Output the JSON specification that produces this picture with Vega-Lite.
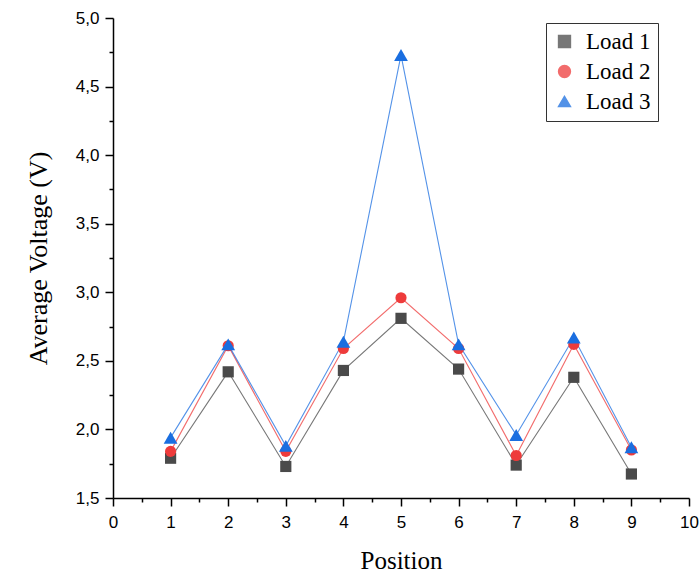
{
  "$schema": "https://vega.github.io/schema/vega-lite/v6.json",
  "autosize": "none",
  "width": 576,
  "height": 480,
  "padding": {"left": 113, "top": 18, "right": 11, "bottom": 79},
  "background": "white",
  "config": {"view": {"stroke": null}},
  "data": {"values": [
    {"pos": 1, "v": 1.79, "series": "Load 1"},
    {"pos": 2, "v": 2.42, "series": "Load 1"},
    {"pos": 3, "v": 1.73, "series": "Load 1"},
    {"pos": 4, "v": 2.43, "series": "Load 1"},
    {"pos": 5, "v": 2.81, "series": "Load 1"},
    {"pos": 6, "v": 2.44, "series": "Load 1"},
    {"pos": 7, "v": 1.74, "series": "Load 1"},
    {"pos": 8, "v": 2.38, "series": "Load 1"},
    {"pos": 9, "v": 1.675, "series": "Load 1"},
    {"pos": 1, "v": 1.84, "series": "Load 2"},
    {"pos": 2, "v": 2.61, "series": "Load 2"},
    {"pos": 3, "v": 1.84, "series": "Load 2"},
    {"pos": 4, "v": 2.59, "series": "Load 2"},
    {"pos": 5, "v": 2.96, "series": "Load 2"},
    {"pos": 6, "v": 2.59, "series": "Load 2"},
    {"pos": 7, "v": 1.81, "series": "Load 2"},
    {"pos": 8, "v": 2.62, "series": "Load 2"},
    {"pos": 9, "v": 1.85, "series": "Load 2"},
    {"pos": 1, "v": 1.94, "series": "Load 3"},
    {"pos": 2, "v": 2.62, "series": "Load 3"},
    {"pos": 3, "v": 1.88, "series": "Load 3"},
    {"pos": 4, "v": 2.64, "series": "Load 3"},
    {"pos": 5, "v": 4.73, "series": "Load 3"},
    {"pos": 6, "v": 2.62, "series": "Load 3"},
    {"pos": 7, "v": 1.96, "series": "Load 3"},
    {"pos": 8, "v": 2.67, "series": "Load 3"},
    {"pos": 9, "v": 1.87, "series": "Load 3"}
  ]},
  "encoding": {
    "x": {
      "field": "pos", "type": "quantitative",
      "scale": {"domain": [0, 10], "nice": false, "zero": false},
      "axis": {
        "title": "Position",
        "values": [0, 0.5, 1, 1.5, 2, 2.5, 3, 3.5, 4, 4.5, 5, 5.5, 6, 6.5, 7, 7.5, 8, 8.5, 9, 9.5, 10],
        "labelExpr": "datum.value % 1 === 0 ? format(datum.value, 'd') : ''",
        "tickSize": {"expr": "datum.value % 1 === 0 ? 8 : 4"},
        "grid": false,
        "domainColor": "black", "domainWidth": 1.5,
        "tickColor": "black", "tickWidth": 1.5,
        "labelFont": "Liberation Sans", "labelFontSize": 17, "labelColor": "black",
        "labelPadding": 8,
        "labelFlush": false,
        "titleFont": "Liberation Serif", "titleFontSize": 25, "titleFontWeight": "normal", "titleColor": "black",
        "titlePadding": 18
      }
    },
    "y": {
      "field": "v", "type": "quantitative",
      "scale": {"domain": [1.5, 5.0], "nice": false, "zero": false},
      "axis": {
        "title": "Average Voltage (V)",
        "values": [1.5, 1.75, 2, 2.25, 2.5, 2.75, 3, 3.25, 3.5, 3.75, 4, 4.25, 4.5, 4.75, 5],
        "labelExpr": "(datum.value * 2) % 1 === 0 ? replace(format(datum.value, '.1f'), '.', ',') : ''",
        "tickSize": {"expr": "(datum.value * 2) % 1 === 0 ? 8 : 4"},
        "grid": false,
        "domainColor": "black", "domainWidth": 1.5,
        "tickColor": "black", "tickWidth": 1.5,
        "labelFont": "Liberation Sans", "labelFontSize": 17, "labelColor": "black",
        "labelPadding": 6,
        "labelFlush": false,
        "titleFont": "Liberation Serif", "titleFontSize": 26, "titleFontWeight": "normal", "titleColor": "black",
        "titlePadding": 24
      }
    },
    "color": {
      "field": "series", "type": "nominal",
      "scale": {"domain": ["Load 1", "Load 2", "Load 3"], "range": ["#4a4a4a", "#ee3b3b", "#1a6ee0"]},
      "legend": {
        "orient": "none", "legendX": 433, "legendY": 5,
        "title": null,
        "strokeColor": "#333", "fillColor": "white", "padding": 7,
        "labelFont": "Liberation Serif", "labelFontSize": 23, "labelColor": "black",
        "labelOffset": 10, "rowPadding": 6, "symbolSize": 140
      }
    }
  },
  "layer": [
    {
      "mark": {"type": "line", "strokeWidth": 1.1, "opacity": 0.75},
      "encoding": {"detail": {"field": "series"}}
    },
    {
      "mark": {"type": "point", "filled": true, "opacity": 1},
      "encoding": {
        "size": {"condition": {"test": "datum.series === 'Load 3'", "value": 190}, "value": 125},
        "shape": {
          "field": "series", "type": "nominal",
          "scale": {"domain": ["Load 1", "Load 2", "Load 3"], "range": ["square", "circle", "triangle-up"]}
        }
      }
    }
  ]
}
